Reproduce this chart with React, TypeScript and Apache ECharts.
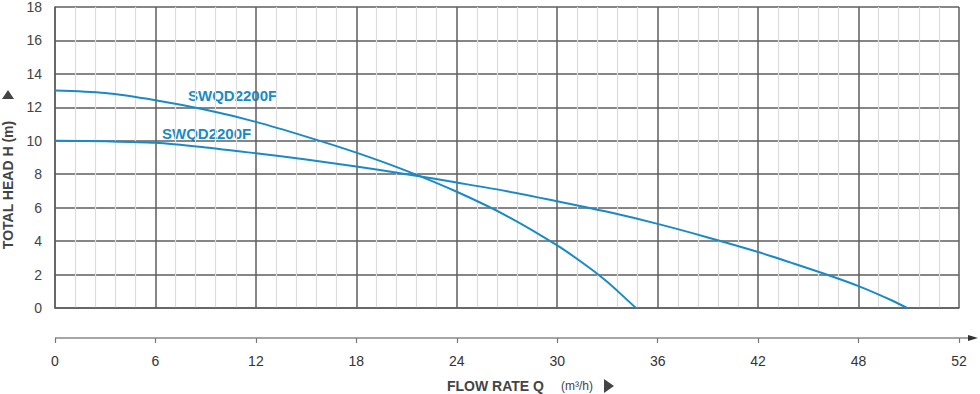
import React, { useEffect, useRef } from "react";
import * as echarts from "echarts";

const flowUpper = [0, 3, 6, 9, 12, 15, 18, 21, 24, 27, 30, 32, 33, 34, 34.7];
const headUpper = [13, 12.85, 12.42, 11.85, 11.13, 10.25, 9.29, 8.2, 6.95, 5.5, 3.74, 2.35, 1.55, 0.65, 0];

const flowLower = [0, 3, 6, 9, 12, 15, 18, 21, 24, 27, 30, 33, 36, 39, 42, 44, 46, 48, 50, 50.9];
const headLower = [10, 9.97, 9.88, 9.6, 9.25, 8.88, 8.46, 8.0, 7.5, 6.98, 6.38, 5.75, 5.03, 4.22, 3.35, 2.7, 2.03, 1.31, 0.45, 0];

const bottomTickLabels = ["0", "6", "12", "18", "24", "30", "36", "42", "48", "52"];
const seriesNames = ["SWQD2200F", "SWQD2200F"];

const BLUE = "#1a8ac6";
const GRID = "#5e5e5e";
const FONT = "Liberation Sans, Arial, sans-serif";

export default function App() {
  const ref = useRef<HTMLDivElement>(null);
  useEffect(() => {
    if (!ref.current) return;
    const chart = echarts.init(ref.current, null, { renderer: "svg" });
    const upper = flowUpper.map((q, i) => [q, headUpper[i]]);
    const lower = flowLower.map((q, i) => [q, headLower[i]]);
    chart.setOption({
      animation: false,
      backgroundColor: "#ffffff",
      textStyle: { fontFamily: FONT },
      grid: { left: 55, right: 21, top: 5, bottom: 86, containLabel: false },
      xAxis: [
        {
          type: "value",
          min: 0,
          max: 54,
          interval: 6,
          axisLabel: { show: false },
          axisTick: { show: false },
          axisLine: { show: true, lineStyle: { color: GRID, width: 1.5 } },
          splitLine: { show: true, lineStyle: { color: GRID, width: 1.5 } },
          minorTick: { show: false, splitNumber: 5 },
          minorSplitLine: { show: true, lineStyle: { color: "#dcdcdc", width: 1.2 } },
        },
        {
          type: "category",
          position: "bottom",
          offset: 30,
          boundaryGap: false,
          data: bottomTickLabels,
          axisLine: { show: false },
          axisTick: { show: true, alignWithLabel: true, length: 5, lineStyle: { color: "#777", width: 1.2 }, interval: 0 },
          axisLabel: { show: true, interval: 0, margin: 16, color: "#333", fontSize: 14, fontFamily: FONT },
          splitLine: { show: false },
        },
      ],
      yAxis: {
        type: "value",
        min: 0,
        max: 18,
        interval: 2,
        axisLine: { show: true, lineStyle: { color: GRID, width: 1.5 } },
        axisTick: { show: false },
        axisLabel: { margin: 13, color: "#444", fontSize: 14, fontFamily: FONT },
        splitLine: { show: true, lineStyle: { color: GRID, width: 1.5 } },
      },
      series: [
        {
          name: seriesNames[0],
          type: "line",
          xAxisIndex: 0,
          data: upper,
          smooth: 0.3,
          showSymbol: false,
          lineStyle: { color: BLUE, width: 2 },
        },
        {
          name: seriesNames[1],
          type: "line",
          xAxisIndex: 0,
          data: lower,
          smooth: 0.3,
          showSymbol: false,
          lineStyle: { color: BLUE, width: 2 },
        },
      ],
      graphic: [
        {
          type: "text",
          left: 188,
          top: 88,
          style: { text: seriesNames[0], fill: BLUE, font: "bold 15px " + FONT },
        },
        {
          type: "text",
          left: 162,
          top: 126,
          style: { text: seriesNames[1], fill: BLUE, font: "bold 15px " + FONT },
        },
        {
          type: "line",
          shape: { x1: 55, y1: 338, x2: 971, y2: 338 },
          style: { stroke: "#888", lineWidth: 1.5 },
        },
        {
          type: "polygon",
          shape: { points: [[968, 335], [978, 338], [968, 341]] },
          style: { fill: "#333" },
        },
        {
          type: "text",
          x: 447,
          y: 386,
          style: { text: "FLOW RATE Q", fill: "#444", font: "bold 14px " + FONT, textVerticalAlign: "middle" },
        },
        {
          type: "text",
          x: 561,
          y: 386,
          style: { text: "(m³/h)", fill: "#444", font: "12px " + FONT, textVerticalAlign: "middle" },
        },
        {
          type: "polygon",
          shape: { points: [[604, 379], [614, 386], [604, 393]] },
          style: { fill: "#444" },
        },
        {
          type: "text",
          x: 8,
          y: 185,
          rotation: Math.PI / 2,
          style: { text: "TOTAL HEAD H (m)", fill: "#444", font: "bold 14px " + FONT, textAlign: "center", textVerticalAlign: "middle" },
        },
        {
          type: "polygon",
          shape: { points: [[2, 99], [14, 99], [8, 90]] },
          style: { fill: "#444" },
        },
      ],
    });
    return () => chart.dispose();
  }, []);
  return <div ref={ref} style={{ position: "fixed", left: 0, top: 0, width: 980, height: 394 }} />;
}
